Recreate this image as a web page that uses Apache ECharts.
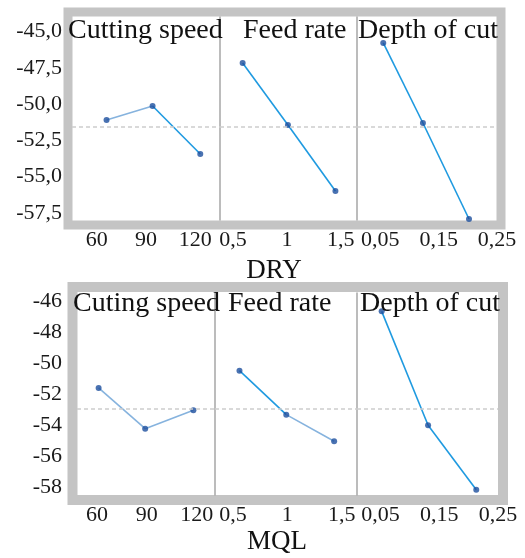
<!DOCTYPE html>
<html><head><meta charset="utf-8">
<script src="https://cdn.jsdelivr.net/npm/echarts@6/dist/echarts.min.js"></script>
<style>html,body{margin:0;padding:0;background:#fff}#c{width:525px;height:558px}</style>
</head><body><div id="c"></div>
<script>
// ---- DRY (S/N ratios) ----
const dryCuttingSpeedX = [66, 94, 123];
const dryCuttingSpeedY = [-51.10, -50.14, -53.45];
const dryFeedRateX = [0.59, 1.01, 1.45];
const dryFeedRateY = [-47.17, -51.45, -56.00];
const dryDepthX = [0.055, 0.123, 0.202];
const dryDepthY = [-45.79, -51.31, -57.93];
// ---- MQL (S/N ratios) ----
const mqlCuttingSpeedX = [61, 89, 118];
const mqlCuttingSpeedY = [-51.61, -54.23, -53.05];
const mqlFeedRateX = [0.56, 0.99, 1.43];
const mqlFeedRateY = [-50.50, -53.33, -55.04];
const mqlDepthX = [0.052, 0.131, 0.213];
const mqlDepthY = [-46.68, -54.01, -58.16];

// ---- texts & tick labels ----
const panelTitlesDry = ['Cutting speed', 'Feed rate', 'Depth of cut'];
const panelTitlesMql = ['Cuting speed', 'Feed rate', 'Depth of cut'];
const cuttingSpeedTicks = [60, 90, 120];
const feedRateTicks = [0.5, 1, 1.5];
const depthTicks = [0.05, 0.15, 0.25];
const dryYTicks = [-57.5, -55, -52.5, -50, -47.5, -45];
const mqlYTicks = [-58, -56, -54, -52, -50, -48, -46];
const chartNames = ['DRY', 'MQL'];

// ---- styling / layout ----
const BRIGHT = '#1f9ae0', LIGHT = '#86b3de', DOT = '#1d4f9e';
const SERIF = '"Liberation Serif", "Times New Roman", serif';
const charts = [
  {
    xs: [dryCuttingSpeedX, dryFeedRateX, dryDepthX],
    ys: [dryCuttingSpeedY, dryFeedRateY, dryDepthY],
    xTicks: [cuttingSpeedTicks, feedRateTicks, depthTicks],
    yTicks: dryYTicks, yDec: 1,
    titles: panelTitlesDry, name: chartNames[0],
    segColors: [[LIGHT, BRIGHT], [BRIGHT, BRIGHT], [BRIGHT, BRIGHT]],
    top: 17, height: 203,
    panels: [[72, 148], [220, 137], [357, 140]],
    xRanges: [[45, 135], [0.38, 1.65], [0.01, 0.25]],
    yRange: [-58, -44], yLabelMargin: 10,
    frame: {x: 68, y: 12, w: 433, h: 213, lw: 9},
    titleTop: 17, titleLefts: [68, 243, 358],
    nameX: 274, nameY: 271
  },
  {
    xs: [mqlCuttingSpeedX, mqlFeedRateX, mqlDepthX],
    ys: [mqlCuttingSpeedY, mqlFeedRateY, mqlDepthY],
    xTicks: [cuttingSpeedTicks, feedRateTicks, depthTicks],
    yTicks: mqlYTicks, yDec: 0,
    titles: panelTitlesMql, name: chartNames[1],
    segColors: [[LIGHT, LIGHT], [BRIGHT, LIGHT], [BRIGHT, BRIGHT]],
    top: 293, height: 202,
    panels: [[77, 138], [215, 142], [357, 141]],
    xRanges: [[48, 131], [0.335, 1.64], [0.01, 0.25]],
    yRange: [-58.5, -45.5], yLabelMargin: 15,
    frame: {x: 72.5, y: 287, w: 430.5, h: 213, lw: 10},
    titleTop: 290, titleLefts: [73, 228, 360],
    nameX: 277, nameY: 542
  }
];

const fmtComma = (v, dec) => (dec == null ? String(v) : v.toFixed(dec)).replace('.', ',');

const grid = [], xAxis = [], yAxis = [], series = [], title = [], graphic = [];
charts.forEach((c) => {
  const allY = [].concat(...c.ys);
  const mean = allY.reduce((a, b) => a + b, 0) / allY.length;
  c.panels.forEach((p, i) => {
    const gi = grid.length;
    grid.push({left: p[0], width: p[1], top: c.top, height: c.height, containLabel: false});
    xAxis.push({
      type: 'value', gridIndex: gi, min: c.xRanges[i][0], max: c.xRanges[i][1],
      axisLine: {show: false}, axisTick: {show: false}, splitLine: {show: false},
      axisLabel: {
        customValues: c.xTicks[i], margin: 9, color: '#1a1a1a', fontFamily: SERIF, fontSize: 22,
        showMinLabel: true, showMaxLabel: true, hideOverlap: false,
        formatter: (v) => fmtComma(v)
      }
    });
    yAxis.push({
      type: 'value', gridIndex: gi, min: c.yRange[0], max: c.yRange[1],
      axisLine: {show: i > 0, lineStyle: {color: '#a6a6a6', width: 1.5}},
      axisTick: {show: false}, splitLine: {show: false},
      axisLabel: {
        show: i === 0, customValues: c.yTicks, margin: c.yLabelMargin,
        color: '#1a1a1a', fontFamily: SERIF, fontSize: 22,
        showMinLabel: true, showMaxLabel: true, hideOverlap: false,
        formatter: (v) => fmtComma(v, c.yDec)
      }
    });
    const xs = c.xs[i], ys = c.ys[i];
    for (let k = 0; k < xs.length - 1; k++) {
      series.push({
        type: 'line', xAxisIndex: gi, yAxisIndex: gi, silent: true, showSymbol: false,
        data: [[xs[k], ys[k]], [xs[k + 1], ys[k + 1]]],
        lineStyle: {color: c.segColors[i][k], width: 1.6}, z: 3
      });
    }
    series.push({
      type: 'scatter', xAxisIndex: gi, yAxisIndex: gi, silent: true,
      data: xs.map((x, k) => [x, ys[k]]), symbolSize: 6,
      itemStyle: {color: DOT}, z: 4,
      markLine: {
        silent: true, symbol: 'none', label: {show: false},
        lineStyle: {color: '#cdcdcd', type: [4, 3], width: 1.5},
        data: [{yAxis: mean}]
      }
    });
    title.push({
      text: c.titles[i], left: c.titleLefts[i], top: c.titleTop, padding: 0,
      textStyle: {fontFamily: SERIF, fontSize: 28, fontWeight: 'normal', color: '#111'}
    });
  });
  graphic.push({
    type: 'rect', z: 0, silent: true,
    shape: {x: c.frame.x, y: c.frame.y, width: c.frame.w, height: c.frame.h},
    style: {fill: null, stroke: '#c4c4c4', lineWidth: c.frame.lw}
  });
  graphic.push({
    type: 'text', z: 10, silent: true,
    style: {text: c.name, x: c.nameX, y: c.nameY, textAlign: 'center', textVerticalAlign: 'middle',
      font: '27px ' + SERIF, fill: '#111'}
  });
});

const chart = echarts.init(document.getElementById('c'), null, {renderer: 'canvas'});
chart.setOption({animation: false, backgroundColor: '#fff', title, grid, xAxis, yAxis, series, graphic});
</script></body></html>
